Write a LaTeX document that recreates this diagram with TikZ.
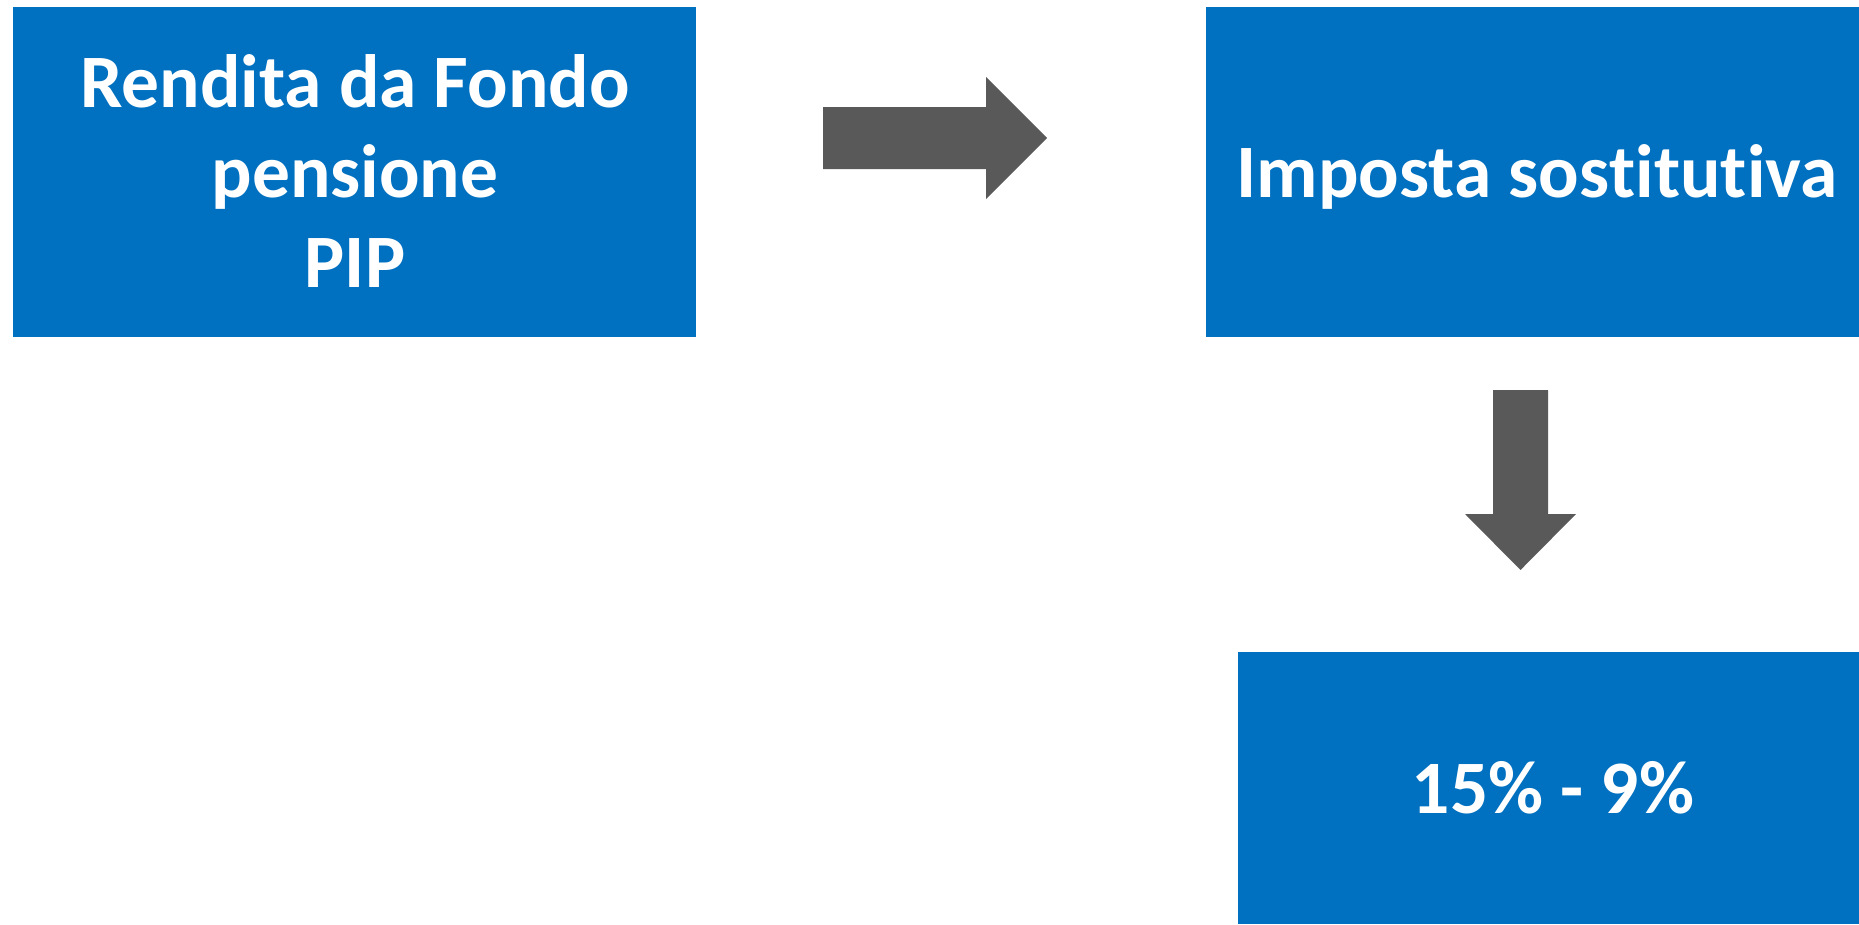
\documentclass[tikz,border=0pt]{standalone}
\usepackage{fontspec}
\setmainfont[Ligatures={NoCommon,NoRare,NoContextual}]{Carlito}
\definecolor{boxblue}{HTML}{0070C0}
\definecolor{arrowgray}{HTML}{595959}
\begin{document}
\begin{tikzpicture}[x=1pt,y=-1pt,
  bluebox/.style={fill=boxblue,draw=none},
  label/.style={text=white,font=\fontsize{75.5}{90}\selectfont\bfseries,inner sep=0pt,anchor=base},
  blockarrow/.style={fill=arrowgray,draw=none}]
\useasboundingbox (0,0) rectangle (1859,924);
% boxes
\path[bluebox] (13,7) rectangle (696,337);
\path[bluebox] (1206,7) rectangle (1859,337);
\path[bluebox] (1238,652) rectangle (1859,924);
% texts
\node[label] (t1a) at (355,107) {Rendita da Fondo};
\node[label] (t1b) at (355,197) {pensione};
\node[label] (t1c) at (355,287) {PIP};
\node[label] (t2) at (1537,197) {Imposta sos\kern0pt tit\kern0pt ut\kern0pt iva};
\node[label] (t3) at (1553,813) {15\% - 9\%};
% arrows
\path[blockarrow] (823,107) -- (986,107) -- (986,77) -- (1047,138) -- (986,199) -- (986,169) -- (823,169) -- cycle;
\path[blockarrow] (1493,390) -- (1548,390) -- (1548,514) -- (1576,514) -- (1520.5,570) -- (1465,514) -- (1493,514) -- cycle;
\end{tikzpicture}
\end{document}
